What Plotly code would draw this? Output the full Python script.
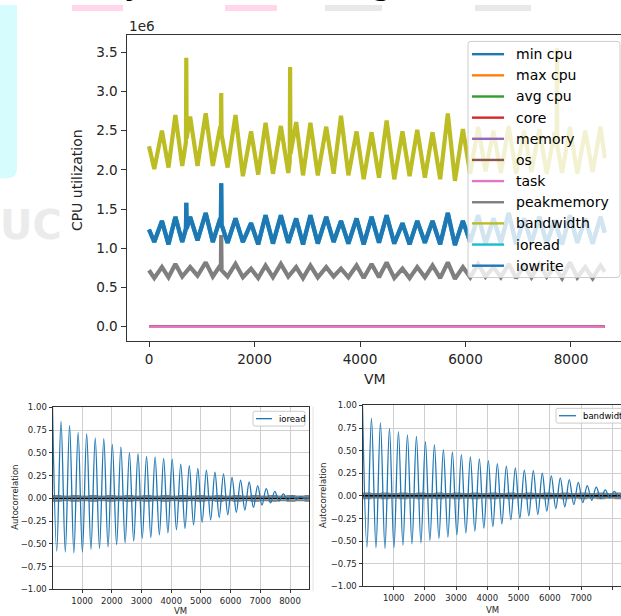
import math
import plotly.graph_objects as go

W, H = 621, 616


def fx(px):
    return px / W


def fy(py):
    return 1 - py / H


# ---------------- top chart data (values in units of 1e6) ----------------
series_names = ["min cpu", "max cpu", "avg cpu", "core", "memory", "os", "task",
                "peakmemory", "bandwidth", "ioread", "iowrite"]
series_colors = ["#1f77b4", "#ff7f0e", "#2ca02c", "#d62728", "#9467bd", "#8c564b",
                 "#e377c2", "#7f7f7f", "#bcbd22", "#17becf", "#1f77b4"]

vm_span = [0, 8640]
min_cpu = [0.0, 0.0]
max_cpu = [0.0, 0.0]
avg_cpu = [0.0, 0.0]
core = [0.0, 0.0]
memory = [0.0, 0.0]
os_vals = [0.0, 0.0]
task = [0.0, 0.0]

peak_vm = [0, 245, 500, 780, 1075, 1350, 1640, 1935, 2210, 2500, 2790, 3060, 3360,
           3640, 3935, 4220, 4505, 4805, 5085, 5375, 5665, 5950, 6240, 6530, 6820,
           7110, 7400, 7690, 7980, 8270, 8560]
trough_vm = [100, 370, 630, 920, 1210, 1490, 1780, 2070, 2350, 2640, 2920, 3200, 3500,
             3780, 4070, 4360, 4650, 4940, 5230, 5520, 5800, 6090, 6380, 6670, 6960,
             7250, 7540, 7830, 8120, 8410, 8640]

bandwidth_peaks = [2.30, 2.50, 2.70, 2.68, 2.72, 2.55, 2.70, 2.49, 2.60, 2.56, 2.61,
                   2.60, 2.55, 2.69, 2.49, 2.48, 2.63, 2.49, 2.51, 2.48, 2.72, 2.52,
                   2.55, 2.50, 2.56, 2.50, 2.52, 2.48, 2.55, 2.50, 2.55]
bandwidth_troughs = [2.01, 2.03, 2.05, 2.05, 2.05, 2.03, 1.92, 1.94, 1.95, 1.96, 1.93,
                     1.93, 1.95, 1.93, 1.88, 1.90, 1.88, 1.92, 1.90, 1.88, 1.86, 1.95,
                     1.98, 1.96, 1.95, 1.97, 1.95, 1.96, 1.95, 1.97, 2.15]
bandwidth_spike_vm = [700, 707, 714, 1362, 1369, 1376, 2668, 2675, 2682, 7728, 7735, 7742]
bandwidth_spike_vals = [2.35, 3.43, 2.40, 2.50, 2.98, 2.45, 2.10, 3.31, 2.20, 2.30, 3.55, 2.30]

iowrite_peaks = [1.24, 1.35, 1.40, 1.40, 1.45, 1.38, 1.38, 1.32, 1.42, 1.42, 1.38,
                 1.42, 1.40, 1.35, 1.38, 1.40, 1.42, 1.32, 1.35, 1.35, 1.45, 1.35,
                 1.42, 1.38, 1.45, 1.38, 1.40, 1.36, 1.42, 1.38, 1.40]
iowrite_troughs = [1.08, 1.05, 1.08, 1.10, 1.08, 1.07, 1.08, 1.05, 1.06, 1.07, 1.05,
                   1.06, 1.08, 1.06, 1.05, 1.07, 1.06, 1.05, 1.07, 1.05, 1.04, 1.08,
                   1.06, 1.07, 1.05, 1.07, 1.06, 1.05, 1.07, 1.06, 1.20]
iowrite_spike_vm = [700, 707, 714, 1362, 1369, 1376]
iowrite_spike_vals = [1.25, 1.58, 1.25, 1.30, 1.83, 1.30]

ioread_peaks = iowrite_peaks
ioread_troughs = iowrite_troughs
ioread_spike_vm = iowrite_spike_vm
ioread_spike_vals = iowrite_spike_vals

peakmemory_peaks = [0.72, 0.76, 0.80, 0.76, 0.82, 0.78, 0.80, 0.74, 0.78, 0.80, 0.76,
                    0.78, 0.76, 0.74, 0.78, 0.80, 0.82, 0.74, 0.76, 0.78, 0.82, 0.76,
                    0.80, 0.76, 0.80, 0.78, 0.80, 0.76, 0.82, 0.76, 0.78]
peakmemory_troughs = [0.62, 0.63, 0.64, 0.65, 0.64, 0.64, 0.63, 0.62, 0.63, 0.64, 0.62,
                      0.63, 0.64, 0.63, 0.62, 0.63, 0.62, 0.62, 0.63, 0.62, 0.61, 0.63,
                      0.64, 0.63, 0.62, 0.63, 0.64, 0.62, 0.63, 0.62, 0.70]
peakmemory_spike_vm = [1362, 1369, 1376]
peakmemory_spike_vals = [0.72, 1.17, 0.72]

x_ticks_top = [0, 2000, 4000, 6000, 8000]
y_ticks_top = [0.0, 0.5, 1.0, 1.5, 2.0, 2.5, 3.0, 3.5]

# ---------------- autocorrelation data ----------------
acf_trough_lags = [144, 432, 720, 1008, 1296, 1584, 1872, 2160, 2448, 2736, 3024, 3312,
                   3600, 3888, 4176, 4464, 4752, 5040, 5328, 5616, 5904, 6192, 6480,
                   6768, 7056, 7344, 7632, 7920, 8208, 8496]
acf_peak_lags = [288, 576, 864, 1152, 1440, 1728, 2016, 2304, 2592, 2880, 3168, 3456,
                 3744, 4032, 4320, 4608, 4896, 5184, 5472, 5760, 6048, 6336, 6624,
                 6912, 7200, 7488, 7776, 8064, 8352]
acf_edge_lags = [1, 8639]

ioread_acf_troughs = [-0.58, -0.59, -0.60, -0.59, -0.56, -0.55, -0.535, -0.51, -0.49,
                      -0.47, -0.44, -0.43, -0.40, -0.38, -0.345, -0.33, -0.29, -0.265,
                      -0.236, -0.21, -0.18, -0.153, -0.128, -0.10, -0.074, -0.05,
                      -0.03, -0.02, -0.01, -0.005]
ioread_acf_peaks = [0.846, 0.80, 0.726, 0.71, 0.665, 0.655, 0.593, 0.565, 0.503, 0.49,
                    0.46, 0.456, 0.44, 0.43, 0.377, 0.36, 0.33, 0.31, 0.287, 0.268,
                    0.23, 0.20, 0.18, 0.14, 0.106, 0.077, 0.05, 0.03, 0.02]
ioread_acf_edges = [1.0, 0.0]

bandwidth_acf_troughs = [-0.566, -0.573, -0.58, -0.573, -0.544, -0.53, -0.52, -0.49,
                         -0.47, -0.454, -0.43, -0.41, -0.39, -0.356, -0.34, -0.31,
                         -0.265, -0.248, -0.22, -0.205, -0.168, -0.14, -0.12, -0.096,
                         -0.074, -0.05, -0.03, -0.02, -0.01, -0.005]
bandwidth_acf_peaks = [0.855, 0.81, 0.747, 0.71, 0.675, 0.656, 0.60, 0.566, 0.51, 0.485,
                       0.456, 0.43, 0.41, 0.39, 0.356, 0.33, 0.31, 0.285, 0.28, 0.25,
                       0.222, 0.20, 0.18, 0.15, 0.114, 0.096, 0.067, 0.05, 0.03]
bandwidth_acf_edges = [1.0, 0.0]

n_obs = 8640
acf_x_ticks = [1000, 2000, 3000, 4000, 5000, 6000, 7000, 8000]
acf_y_ticks = [-1.0, -0.75, -0.5, -0.25, 0.0, 0.25, 0.5, 0.75, 1.0]


def merge(*pairs):
    pts = []
    for xs, ys in pairs:
        pts += list(zip(xs, ys))
    pts.sort(key=lambda p: p[0])
    return [p[0] for p in pts], [p[1] for p in pts]


FONT = "DejaVu Sans"
TXT = "#262626"
fig = go.Figure()

# top chart traces
flat = [min_cpu, max_cpu, avg_cpu, core, memory, os_vals, task]
for i, vals in enumerate(flat):
    fig.add_trace(go.Scatter(x=vm_span, y=vals, mode="lines", name=series_names[i],
                             line=dict(color=series_colors[i], width=2.6),
                             xaxis="x", yaxis="y", showlegend=False))

osc = {
    "peakmemory": (peakmemory_peaks, peakmemory_troughs, peakmemory_spike_vm, peakmemory_spike_vals),
    "bandwidth": (bandwidth_peaks, bandwidth_troughs, bandwidth_spike_vm, bandwidth_spike_vals),
    "ioread": (ioread_peaks, ioread_troughs, ioread_spike_vm, ioread_spike_vals),
    "iowrite": (iowrite_peaks, iowrite_troughs, iowrite_spike_vm, iowrite_spike_vals),
}
for name in ["peakmemory", "bandwidth", "ioread", "iowrite"]:
    pk, tr, sx, sy = osc[name]
    xs, ys = merge((peak_vm, pk), (trough_vm, tr), (sx, sy))
    idx = series_names.index(name)
    fig.add_trace(go.Scatter(x=xs, y=ys, mode="lines", name=name,
                             line=dict(color=series_colors[idx], width=4.2),
                             xaxis="x", yaxis="y", showlegend=False))

# autocorrelation reference lines (drawn under the curves, like pandas)
z95 = 1.959963984540054 / math.sqrt(n_obs)
z99 = 2.5758293035489004 / math.sqrt(n_obs)
ref_levels = [(z99, "dash", "grey"), (z95, "solid", "grey"), (0.0, "solid", "black"),
              (-z95, "solid", "grey"), (-z99, "dash", "grey")]
for xa, ya, xr in [("x2", "y2", [1, 8640]), ("x3", "y3", [1, 8640])]:
    for yv, dash, col in ref_levels:
        fig.add_trace(go.Scatter(x=xr, y=[yv, yv], mode="lines",
                                 line=dict(color=col, width=1.8, dash=dash),
                                 xaxis=xa, yaxis=ya, showlegend=False, hoverinfo="skip"))

# autocorrelation curves
ax_, ay_ = merge((acf_edge_lags, ioread_acf_edges), (acf_trough_lags, ioread_acf_troughs),
                 (acf_peak_lags, ioread_acf_peaks))
fig.add_trace(go.Scatter(x=ax_, y=ay_, mode="lines", name="ioread",
                         line=dict(color="#1f77b4", width=1.3, shape="spline", smoothing=1.0),
                         xaxis="x2", yaxis="y2", showlegend=False))
bx_, by_ = merge((acf_edge_lags, bandwidth_acf_edges), (acf_trough_lags, bandwidth_acf_troughs),
                 (acf_peak_lags, bandwidth_acf_peaks))
fig.add_trace(go.Scatter(x=bx_, y=by_, mode="lines", name="bandwidth",
                         line=dict(color="#1f77b4", width=1.3, shape="spline", smoothing=1.0),
                         xaxis="x3", yaxis="y3", showlegend=False))

shapes = []
annotations = []


def note(text, px, py, size, color=TXT, xa="center", ya="middle", angle=0):
    annotations.append(dict(text=text, x=fx(px), y=fy(py), xref="paper", yref="paper",
                            xanchor=xa, yanchor=ya, textangle=angle, showarrow=False,
                            font=dict(family=FONT, size=size, color=color)))


# background decorations (screenshot artefacts)
cyan_path = (f"M 0,{fy(0)} L {fx(17)},{fy(0)} L {fx(17)},{fy(166)} "
             f"Q {fx(17)},{fy(176)} {fx(8)},{fy(176)} L 0,{fy(176)} Z")
shapes.append(dict(type="path", path=cyan_path, xref="paper", yref="paper",
                   fillcolor="#d6fcfd", line=dict(width=0), layer="below"))
for (x0, x1, col) in [(72, 123, "#ffd6ea"), (225, 277, "#ffd6ea"),
                      (325, 382, "#e8e8e8"), (475, 531, "#e8e8e8")]:
    shapes.append(dict(type="rect", xref="paper", yref="paper", x0=fx(x0), x1=fx(x1),
                       y0=fy(6), y1=fy(0), fillcolor=col, line=dict(width=0), layer="below"))
note("<b>UC</b>", 31, 224, 40, color="#ebebeb")
note("y", 134, -1, 34, color="#000", ya="bottom")
note("g", 382, -1, 34, color="#000", ya="bottom")


def rrect(x0, y0, x1, y1, r):
    return (f"M {fx(x0 + r)},{fy(y0)} L {fx(x1 - r)},{fy(y0)} Q {fx(x1)},{fy(y0)} {fx(x1)},{fy(y0 + r)} "
            f"L {fx(x1)},{fy(y1 - r)} Q {fx(x1)},{fy(y1)} {fx(x1 - r)},{fy(y1)} "
            f"L {fx(x0 + r)},{fy(y1)} Q {fx(x0)},{fy(y1)} {fx(x0)},{fy(y1 - r)} "
            f"L {fx(x0)},{fy(y0 + r)} Q {fx(x0)},{fy(y0)} {fx(x0 + r)},{fy(y0)} Z")


# top legend (matplotlib style)
shapes.append(dict(type="path", path=rrect(468, 37, 620, 277, 3), xref="paper", yref="paper",
                   fillcolor="rgba(255,255,255,0.8)", line=dict(color="#cccccc", width=1),
                   layer="above"))
row_y = [50, 71.5, 93, 114.5, 136, 157.5, 179, 200.5, 222, 243.5, 265]
for i, name in enumerate(series_names):
    shapes.append(dict(type="line", xref="paper", yref="paper", x0=fx(472), x1=fx(504),
                       y0=fy(row_y[i]), y1=fy(row_y[i]),
                       line=dict(color=series_colors[i], width=2.4), layer="above"))
    note(name, 514, row_y[i], 14, color="#000", xa="left")

# bottom legends
shapes.append(dict(type="path", path=rrect(253, 413, 305, 428, 2), xref="paper", yref="paper",
                   fillcolor="rgba(255,255,255,0.8)", line=dict(color="#cccccc", width=1),
                   layer="above"))
shapes.append(dict(type="line", xref="paper", yref="paper", x0=fx(256), x1=fx(272),
                   y0=fy(420.5), y1=fy(420.5), line=dict(color="#1f77b4", width=1.3), layer="above"))
note("ioread", 277, 420.5, 8.5, color="#000", xa="left")
shapes.append(dict(type="path", path=rrect(556, 410, 640, 425, 2), xref="paper", yref="paper",
                   fillcolor="rgba(255,255,255,0.8)", line=dict(color="#cccccc", width=1),
                   layer="above"))
shapes.append(dict(type="line", xref="paper", yref="paper", x0=fx(559), x1=fx(576),
                   y0=fy(417.5), y1=fy(417.5), line=dict(color="#1f77b4", width=1.3), layer="above"))
note("bandwidth", 581, 417.5, 8.5, color="#000", xa="left")

# faint separator edge between the two lower images
shapes.append(dict(type="line", xref="paper", yref="paper", x0=fx(313), x1=fx(313),
                   y0=fy(408), y1=fy(596), line=dict(color="#e4e4e4", width=1), layer="below"))

# axis labels
note("1e6", 127, 21, 13.6, xa="left")
note("CPU utilization", 77, 178, 14, angle=-90)
note("VM", 375, 380, 14)
note("Autocorrelation", 15, 501, 8.5, angle=-90)
note("Autocorrelation", 323, 499, 8.5, angle=-90)
note("VM", 180, 609, 8.5, ya="top")
note("VM", 492, 608, 8.5, ya="top")

LINE = "#333333"
top_x = dict(domain=[fx(126.5), 1.0], range=[-426.5, 8948], tickvals=x_ticks_top,
             ticktext=[str(v) for v in x_ticks_top], ticks="outside", ticklen=5, tickwidth=1,
             tickcolor=LINE, showline=True, linecolor=LINE, linewidth=1, mirror=True,
             showgrid=False, zeroline=False, anchor="y",
             tickfont=dict(family=FONT, size=13.6, color=TXT))
top_y = dict(domain=[fy(342), fy(30)], range=[-0.188, 3.726], tickvals=y_ticks_top,
             ticktext=[f"{v:.1f}" for v in y_ticks_top], ticks="outside", ticklen=5, tickwidth=1,
             tickcolor=LINE, showline=True, linecolor=LINE, linewidth=1, mirror=False,
             showgrid=False, zeroline=False, anchor="x",
             tickfont=dict(family=FONT, size=13.6, color=TXT))


def fmt_acf(v):
    s = f"{abs(v):.2f}"
    return ("\u2212" + s) if v < 0 else s


def acf_axes(xdom, ydom, xrng, xname, yname, ymirror):
    xa = dict(domain=xdom, range=xrng, tickvals=acf_x_ticks, ticktext=[str(v) for v in acf_x_ticks],
              ticks="outside", ticklen=3, tickwidth=1, tickcolor=LINE, showline=True,
              linecolor=LINE, linewidth=1, mirror=True, showgrid=True, gridcolor="#cfcfcf",
              gridwidth=1, zeroline=False, anchor=yname,
              tickfont=dict(family=FONT, size=8.5, color=TXT))
    ya = dict(domain=ydom, range=[-1, 1], tickvals=acf_y_ticks,
              ticktext=[fmt_acf(v) for v in acf_y_ticks], ticks="outside", ticklen=3, tickwidth=1,
              tickcolor=LINE, showline=True, linecolor=LINE, linewidth=1, mirror=ymirror,
              showgrid=True, gridcolor="#cfcfcf", gridwidth=1, zeroline=False, anchor=xname,
              tickfont=dict(family=FONT, size=8.5, color=TXT))
    return xa, ya


x2, y2 = acf_axes([fx(52.5), fx(309)], [fy(594), fy(409)], [1, 8640], "x2", "y2", True)
x3, y3 = acf_axes([fx(362.5), 1.0], [fy(591), fy(407)], [1, 8280], "x3", "y3", False)

fig.update_layout(
    width=W, height=H, margin=dict(l=0, r=0, t=0, b=0),
    paper_bgcolor="white", plot_bgcolor="rgba(0,0,0,0)",
    xaxis=top_x, yaxis=top_y, xaxis2=x2, yaxis2=y2, xaxis3=x3, yaxis3=y3,
    shapes=shapes, annotations=annotations, showlegend=False,
    font=dict(family=FONT),
)

fig.write_html("out.html", config={"displayModeBar": False},
               post_script="document.body.style.margin='0';")
